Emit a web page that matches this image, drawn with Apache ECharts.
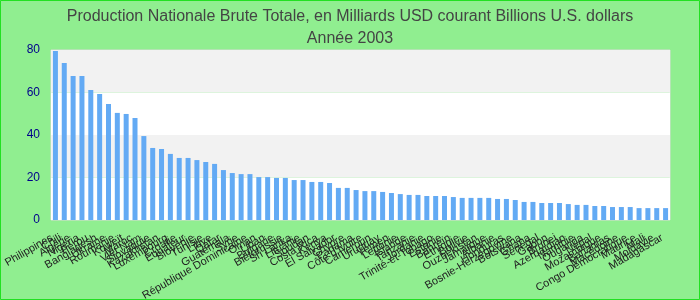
<!DOCTYPE html>
<html>
<head>
<meta charset="utf-8">
<script src="https://cdn.jsdelivr.net/npm/echarts@6/dist/echarts.min.js"></script>
<style>
html,body{margin:0;padding:0;background:#90ee90;}
#chart{width:700px;height:300px;}
</style>
</head>
<body>
<div id="chart"></div>
<script>
const titleText = "Production Nationale Brute Totale, en Milliards USD courant Billions U.S. dollars";
const subtitleText = "Année 2003";

const countries = [
  "Philippines","Chili","Algérie","Nigeria","Pérou","Bangladesh","Ukraine","Roumanie","Koweït","Maroc",
  "Viêt Nam","Slovaquie","Kazakhstan","Luxembourg","Croatie","Équateur","Slovénie","Tunisie","Libye","Qatar",
  "Guatemala","Syrie","République Dominicaine","Oman","Liban","Bulgarie","Biélorussie","Sri Lanka","Lituanie","Soudan",
  "Costa Rica","Kenya","El Salvador","Chypre","Panama","Côte d'Ivoire","Cameroun","Uruguay","Yémen","Lettonie",
  "Islande","Tanzanie","Jordanie","Trinité-et-Tobago","Estonie","Bahreïn","Éthiopie","Bolivie","Ouzbékistan","Jamaïque",
  "Albanie","Honduras","Bosnie-Herzégovine","Botswana","Ghana","Sénégal","Gabon","Brunei","Azerbaïdjan","Namibie",
  "Ouganda","Népal","Mozambique","Bahamas","Macédoine","Congo Démocratique","Maurice","Mali","Moldavie","Madagascar"
];

const values = [
  79.5,73.9,67.8,67.8,61.2,59.3,54.6,50.4,49.9,48.0,
  39.5,33.9,33.4,31.1,29.2,29.2,28.2,27.3,26.4,23.5,
  22.1,21.6,21.6,20.2,20.2,19.8,19.8,18.8,18.8,17.9,
  17.9,17.4,15.1,15.1,14.1,13.6,13.6,13.2,12.7,12.2,
  11.8,11.8,11.3,11.3,11.3,10.8,10.4,10.4,10.4,10.4,
  9.9,9.9,9.4,8.5,8.5,8.0,8.0,8.0,7.5,7.1,
  7.1,6.6,6.6,6.1,6.1,6.1,5.6,5.6,5.6,5.6
];

const yMin = 0, yMax = 80, yStep = 20;

const chart = echarts.init(document.getElementById('chart'), null, {renderer:'canvas'});
chart.setOption({
  animation:false,
  backgroundColor:'#90ee90',
  title:[
    {text:titleText,left:'center',top:4,textStyle:{fontFamily:'Liberation Sans, Arial, sans-serif',fontSize:16,fontWeight:'normal',color:'#444'}},
    {text:subtitleText,left:'center',top:26,textStyle:{fontFamily:'Liberation Sans, Arial, sans-serif',fontSize:16,fontWeight:'normal',color:'#444'}}
  ],
  graphic:[
    {type:'rect',shape:{x:0.5,y:0.5,width:699,height:299},style:{fill:'none',stroke:'#22e022',lineWidth:1},silent:true,z:100}
  ],
  grid:{left:51,right:30,top:50,bottom:80,containLabel:false,outerBoundsMode:'none',show:true,borderColor:'#d9d9d9',borderWidth:1,backgroundColor:'transparent'},
  xAxis:{
    type:'category',
    data:countries,
    axisLine:{show:false},
    axisTick:{show:false},
    axisLabel:{interval:0,rotate:30,fontSize:11,color:'#222',margin:15,padding:[0,4,0,0],fontFamily:'Liberation Sans, Arial, sans-serif'},
    splitLine:{show:false}
  },
  yAxis:{
    type:'value',
    min:yMin,max:yMax,interval:yStep,
    axisLine:{show:false},
    axisTick:{show:false},
    splitLine:{show:false},
    splitArea:{show:true,areaStyle:{color:['#ffffff','#f2f2f2']}},
    axisLabel:{fontSize:12,color:'#00008b',margin:11,fontFamily:'Liberation Sans, Arial, sans-serif'}
  },
  series:[{
    type:'bar',
    data:values,
    barWidth:5,
    itemStyle:{color:'#63aaf4'}
  }]
});
</script>
</body>
</html>
